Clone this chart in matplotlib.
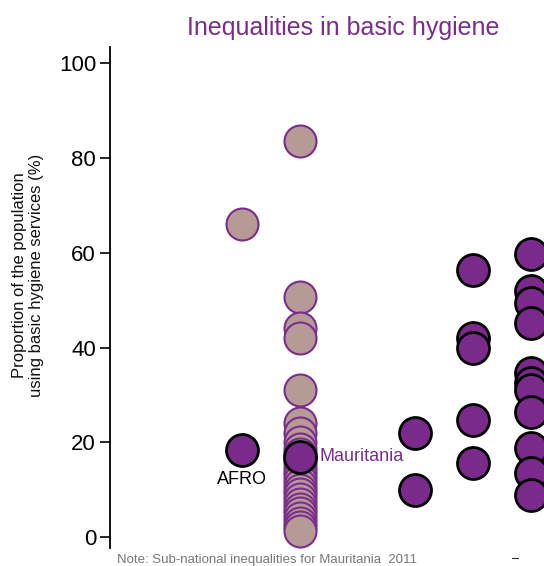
import matplotlib
matplotlib.use("Agg")
import matplotlib.pyplot as plt

plt.rcParams['font.family'] = ['Liberation Sans', 'DejaVu Sans']

# ---- data ----
afro_regional = [66.0]                      # AFRO light marker
afro_national = [18.4]                      # AFRO dark marker
mauritania_subnational = [83.5, 50.6, 44.1, 42.0, 31.0, 24.0, 22.0, 20.0, 18.5,
                          17.5, 16.0, 15.0, 14.0, 13.0, 12.0, 11.0, 10.0, 9.0,
                          8.0, 7.0, 6.0, 5.0, 4.0, 3.0, 2.2, 1.3]
mauritania_national = [16.9]
col3_values = [21.9, 10.0]
col4_values = [56.3, 42.0, 39.9, 24.7, 15.6]
col5_values = [59.8, 52.0, 49.4, 45.1, 34.6, 32.5, 31.0, 26.4, 18.8, 13.5, 8.9]
yticks = [0, 20, 40, 60, 80, 100]

PURPLE = '#7B2D8E'
TAN = '#B59A95'
DARK = '#7A2A8A'

fig = plt.figure(figsize=(5.44, 5.66), dpi=100)
ax = fig.add_axes([110/544, 18/566, 490/544, 501/566])
ax.set_ylim(-2.3, 103.4)
xl = 1 - 132/57.7
ax.set_xlim(xl, xl + 490/57.7)

S = 530
ax.scatter([1]*len(afro_regional), afro_regional, s=S, c=TAN, edgecolors=PURPLE, linewidths=1.5, zorder=2)
ax.scatter([2]*len(mauritania_subnational), mauritania_subnational, s=S, c=TAN,
           edgecolors=PURPLE, linewidths=1.5, zorder=2)
for x, vals in [(1, afro_national), (2, mauritania_national), (4, col3_values),
                (5, col4_values), (6, col5_values)]:
    ax.scatter([x]*len(vals), vals, s=S, c=DARK, edgecolors='black', linewidths=2, zorder=3)

ax.text(1, afro_national[0] - 6.3, 'AFRO', ha='center', va='center', fontsize=13, color='black')
ax.text(2.35, mauritania_national[0], 'Mauritania', ha='left', va='center', fontsize=13, color=PURPLE)

for s in ['top', 'right', 'bottom']:
    ax.spines[s].set_visible(False)
ax.spines['left'].set_linewidth(1.3)
ax.set_xticks([])
ax.set_yticks(yticks)
ax.tick_params(axis='y', labelsize=16, length=7, width=1.2, pad=3)

fig.text(343/544, 1 - 28/566, 'Inequalities in basic hygiene', ha='center', va='center',
         fontsize=18, color=PURPLE)
fig.text(28/544, 1 - 275/566, 'Proportion of the population\nusing basic hygiene services (%)',
         rotation=90, ha='center', va='center', fontsize=12, color='#111111')
fig.text(117/544, 1 - 560/566, 'Note: Sub-national inequalities for Mauritania  2011',
         ha='left', va='center', fontsize=9.5, color='#777777')
fig.text(516/544, 1 - 559/566, '–', ha='center', va='center', fontsize=9, color='black')

fig.savefig('out.png', dpi=100)
